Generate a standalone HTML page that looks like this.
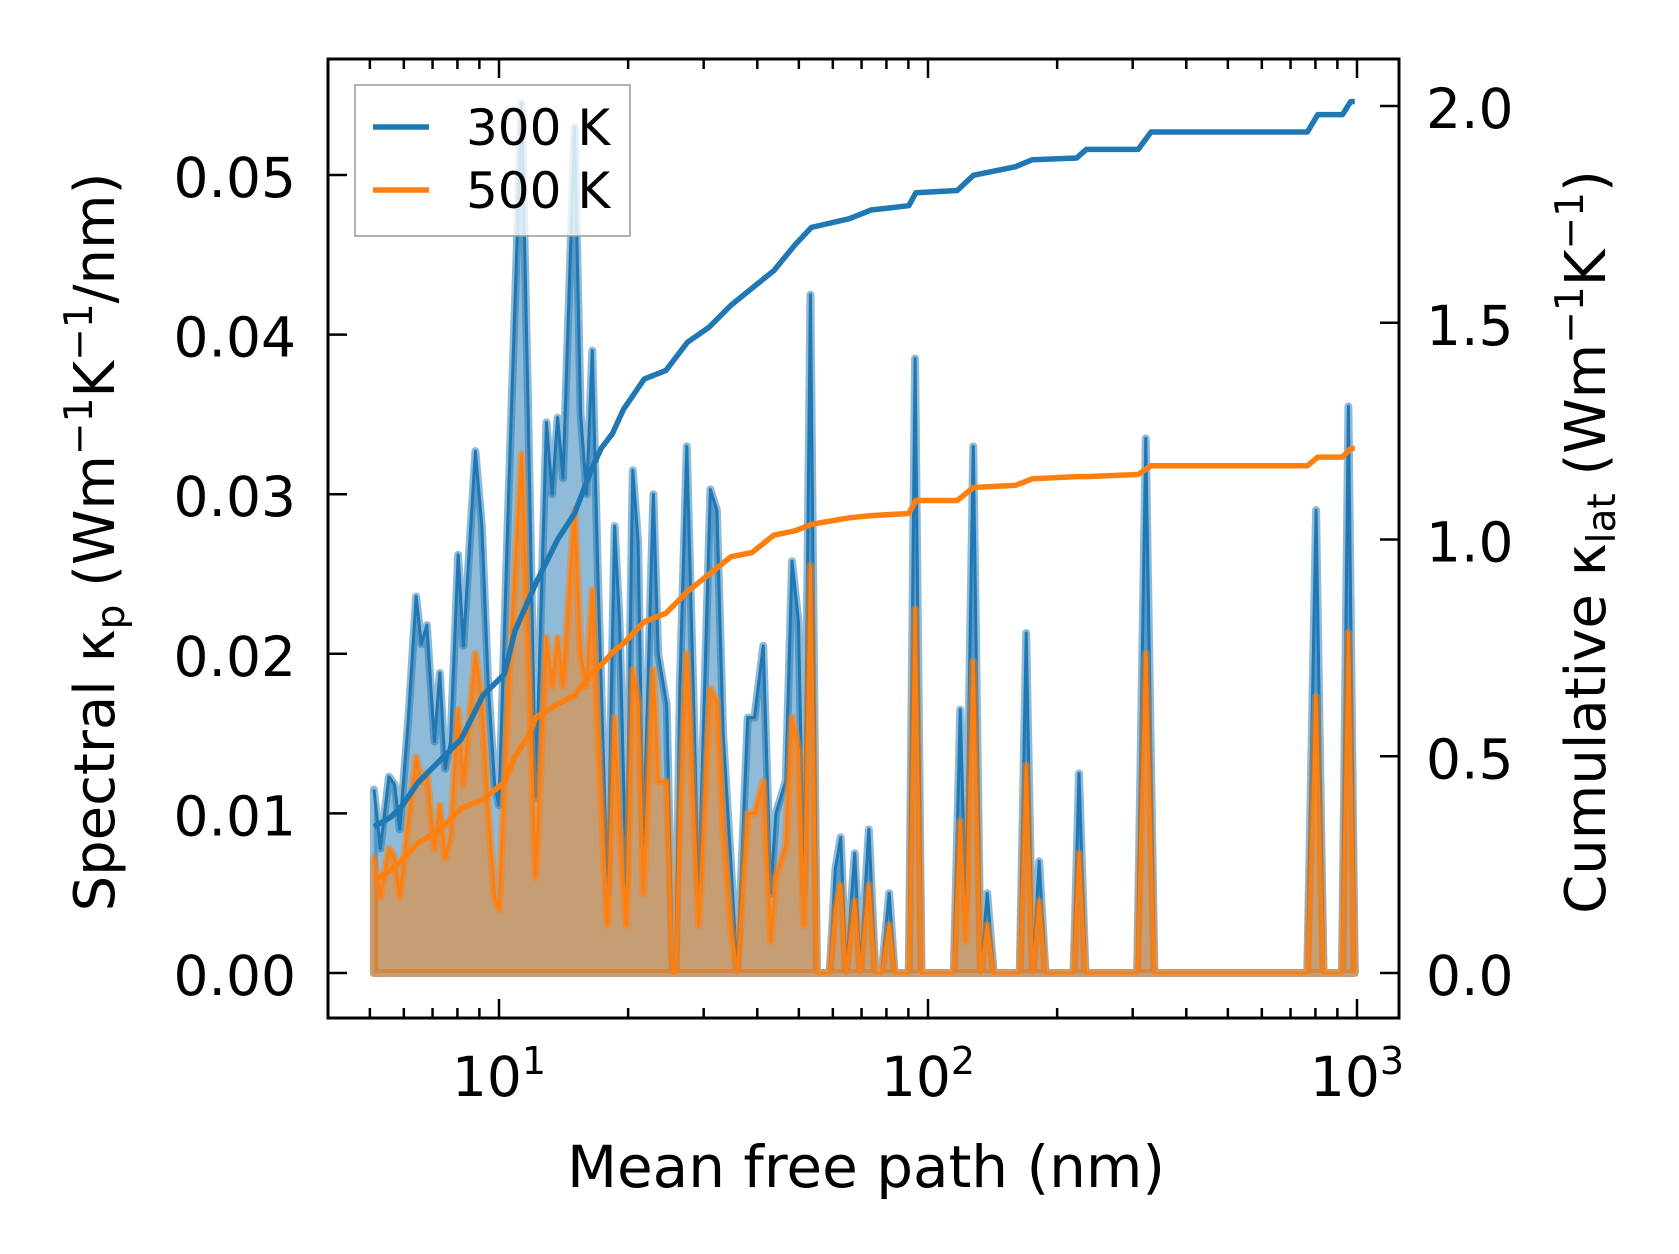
<!DOCTYPE html>
<html><head><meta charset="utf-8"><style>
html,body{margin:0;padding:0;background:#fff;}
svg{display:block;font-family:"DejaVu Sans","Liberation Sans",sans-serif;}
</style></head><body>
<svg id="chart" width="1679" height="1254" viewBox="0 0 1679 1254" xmlns="http://www.w3.org/2000/svg">
<rect width="1679" height="1254" fill="#fff"/>
<g id="plot"></g>
<g id="axes"></g>
</svg>
<script>
const mfp=[5.11,5.29,5.54,5.71,5.87,6.15,6.41,6.59,6.79,7.07,7.28,7.49,7.71,8.03,8.26,8.81,9.12,9.44,9.77,10.0,10.53,11.29,11.7,12.17,12.9,13.3,13.7,14.1,15.0,15.5,16.0,16.5,17.0,17.9,18.6,19.1,19.8,20.5,21.1,21.7,22.9,23.5,24.6,25.4,25.8,26.4,27.4,29.2,31.1,32.2,33.3,34.7,35.9,38.0,39.4,41.3,43.0,44.2,46.6,48.2,49.9,51.4,53.2,55.1,59.0,60.8,62.6,64.4,67.5,69.5,72.8,75.4,78,81.2,83.6,90.2,93.3,96.6,114.8,118.9,122.4,127.5,132.7,137.4,142.3,163.6,169.4,175.4,181.6,187.9,218.4,224.9,232.8,307.3,321.8,337.1,765.6,802.8,835.6,922.5,955,988];
const spec300=[0.0115,0.0078,0.0123,0.0118,0.009,0.016,0.0236,0.0206,0.0218,0.0145,0.0188,0.0128,0.0145,0.0262,0.0205,0.0327,0.028,0.018,0.0118,0.0105,0.030,0.0545,0.035,0.011,0.0345,0.030,0.0348,0.031,0.053,0.035,0.030,0.039,0.025,0.005,0.028,0.022,0.0055,0.0315,0.027,0.008,0.030,0.020,0.0168,0,0,0.018,0.033,0.005,0.0303,0.029,0.015,0.007,0,0.016,0.016,0.0205,0.005,0.010,0.012,0.0258,0.022,0.005,0.0425,0,0,0.0065,0.0085,0,0.0075,0,0.009,0,0,0.005,0,0,0.0385,0,0,0.0165,0.004,0.033,0,0.005,0,0,0.0213,0,0.007,0,0,0.0125,0,0,0.0335,0,0,0.029,0,0,0.0355,0];
const spec500=[0.0072,0.0048,0.0078,0.0072,0.0048,0.0095,0.0135,0.012,0.0125,0.0078,0.0105,0.0072,0.0085,0.0165,0.0118,0.020,0.017,0.010,0.0048,0.004,0.018,0.0325,0.020,0.006,0.021,0.018,0.021,0.018,0.029,0.020,0.018,0.024,0.015,0.003,0.016,0.009,0.003,0.019,0.017,0.005,0.019,0.012,0.012,0,0,0.010,0.020,0.003,0.0178,0.017,0.009,0.003,0,0.010,0.010,0.012,0.002,0.006,0.008,0.016,0.014,0.003,0.0255,0,0,0.004,0.0055,0,0.0045,0,0.0055,0,0,0.003,0,0,0.0228,0,0,0.0095,0.002,0.0195,0,0.003,0,0,0.013,0,0.0045,0,0,0.0075,0,0,0.020,0,0,0.0173,0,0,0.0213,0];
const cumMfp=[5.11,5.6,5.94,6.48,7.28,8.17,9.17,10.3,10.9,11.6,12.2,13.7,15.0,16.4,17.3,18.4,19.5,21.8,24.5,27.5,30.9,34.7,38.9,43.7,49.0,53.5,65.6,73.6,90.2,93.7,117,127.5,160,175,222,234,309,331,766,810,925,966,988];
const cum300=[0.337,0.36,0.385,0.44,0.49,0.54,0.64,0.69,0.79,0.85,0.90,1.00,1.06,1.16,1.21,1.245,1.30,1.37,1.39,1.455,1.49,1.54,1.58,1.62,1.68,1.72,1.74,1.76,1.77,1.80,1.805,1.84,1.86,1.876,1.88,1.90,1.90,1.94,1.94,1.98,1.98,2.01,2.01];
const cum500=[0.213,0.238,0.26,0.30,0.33,0.38,0.40,0.44,0.50,0.54,0.59,0.62,0.64,0.69,0.71,0.74,0.76,0.81,0.83,0.88,0.92,0.96,0.97,1.01,1.02,1.035,1.05,1.055,1.06,1.09,1.09,1.12,1.125,1.14,1.145,1.145,1.15,1.17,1.17,1.19,1.19,1.21,1.21];
const leftTicks=[0,0.01,0.02,0.03,0.04,0.05];
const leftLabels=["0.00","0.01","0.02","0.03","0.04","0.05"];
const rightTicks=[0,0.5,1.0,1.5,2.0];
const rightLabels=["0.0","0.5","1.0","1.5","2.0"];
const xDecades=[1,2,3];

const NS="http://www.w3.org/2000/svg";
const L=328,R=1399,T=59,B=1018;
const X=m=>499+429*(Math.log10(m)-1);
const YL=v=>973-v*15960;
const YR=v=>973-v*433.5;
const plot=document.getElementById('plot'), axes=document.getElementById('axes');
function mk(tag,attrs,parent){const e=document.createElementNS(NS,tag);for(const k in attrs)e.setAttribute(k,attrs[k]);parent.appendChild(e);return e;}

function spectral(vals,color,name){
  let d=`M${X(mfp[0])},${YL(0)}`;
  mfp.forEach((m,i)=>{d+=` L${X(m)},${YL(vals[i])}`;});
  d+=` L${X(mfp[mfp.length-1])},${YL(0)} Z`;
  const f=mk('path',{d:d,fill:color,'fill-opacity':0.5,stroke:color,'stroke-opacity':0.5,'stroke-width':8,'stroke-linejoin':'round'},plot);
  
  
  const pts=mfp.map((m,i)=>`${X(m)},${YL(vals[i])}`).join(' ');
  const l=mk('polyline',{points:pts,fill:'none',stroke:color,'stroke-width':3,'stroke-linejoin':'round'},plot);
  
  
}
spectral(spec300,'#1f77b4','spectral-300k');
spectral(spec500,'#ff7f0e','spectral-500k');
function cum(vals,color,name){
  const pts=cumMfp.map((m,i)=>`${X(m)},${YR(vals[i])}`).join(' ');
  const l=mk('polyline',{points:pts,fill:'none',stroke:color,'stroke-width':5.5,'stroke-linejoin':'round'},plot);
  
  
}
cum(cum300,'#1f77b4','cumulative-300k');
cum(cum500,'#ff7f0e','cumulative-500k');

const sp=mk('rect',{x:L,y:T,width:R-L,height:B-T,fill:'none',stroke:'#000','stroke-width':3},axes);


for(let e=0;e<=3;e++){for(let k=1;k<10;k++){const v=k*Math.pow(10,e);const x=X(v);if(x<L+2||x>R-2)continue;const len=k===1?19:10;
  mk('line',{x1:x,y1:B,x2:x,y2:B-len,stroke:'#000','stroke-width':2.5},axes);
  mk('line',{x1:x,y1:T,x2:x,y2:T+len,stroke:'#000','stroke-width':2.5},axes);}}
xDecades.forEach(e=>{const t=mk('text',{x:X(Math.pow(10,e)),y:1096,'font-size':55,'text-anchor':'middle'},axes);
  
  
  t.innerHTML=`10<tspan dy="-22" font-size="38">${e}</tspan>`;});
leftTicks.forEach((v,i)=>{const y=YL(v);mk('line',{x1:L,y1:y,x2:L+19,y2:y,stroke:'#000','stroke-width':2.5},axes);
  const t=mk('text',{x:296,y:y+22,'font-size':55,'text-anchor':'end'},axes);t.textContent=leftLabels[i];
  
  });
rightTicks.forEach((v,i)=>{const y=YR(v);mk('line',{x1:R,y1:y,x2:R-19,y2:y,stroke:'#000','stroke-width':2.5},axes);
  const t=mk('text',{x:1426,y:y+22,'font-size':55,'text-anchor':'start'},axes);t.textContent=rightLabels[i];
  
  });
const xt=mk('text',{x:866,y:1187,'font-size':58,'text-anchor':'middle'},axes);xt.textContent='Mean free path (nm)';


const yt=mk('text',{x:0,y:0,'font-size':56,'text-anchor':'middle',transform:'translate(114,542) rotate(-90)'},axes);
yt.innerHTML='Spectral κ<tspan dy="10" font-size="39">p</tspan><tspan dy="-10"> (Wm</tspan><tspan dy="-22" font-size="39">−1</tspan><tspan dy="22">K</tspan><tspan dy="-22" font-size="39">−1</tspan><tspan dy="22">/nm)</tspan>';


const yr=mk('text',{x:0,y:0,'font-size':56,'text-anchor':'middle',transform:'translate(1605,542) rotate(-90)'},axes);
yr.innerHTML='Cumulative κ<tspan dy="10" font-size="39">lat</tspan><tspan dy="-10"> (Wm</tspan><tspan dy="-22" font-size="39">−1</tspan><tspan dy="22">K</tspan><tspan dy="-22" font-size="39">−1</tspan><tspan dy="22">)</tspan>';


const lg=mk('g',{},axes);


mk('rect',{x:355,y:85,width:275,height:151,fill:'#fff','fill-opacity':0.8,stroke:'#999','stroke-width':1.5},lg);
[['300 K','#1f77b4',127],['500 K','#ff7f0e',190]].forEach(([lab,c,y])=>{
  const e=mk('g',{},lg);
  
  
  mk('line',{x1:373,y1:y,x2:429,y2:y,stroke:c,'stroke-width':5.5},e);
  const t=mk('text',{x:466,y:y+18,'font-size':50},e);t.textContent=lab;});
</script>
</body></html>
